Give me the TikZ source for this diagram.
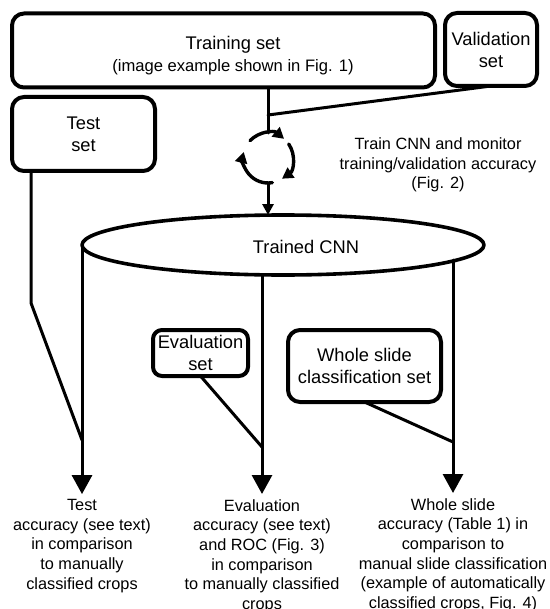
\documentclass[tikz,border=0pt]{standalone}
\usepackage{fontspec}
\setmainfont{Liberation Sans}
\usetikzlibrary{arrows.meta,shapes.geometric}

\begin{document}
\begin{tikzpicture}[line cap=round,line join=round,x=0.5pt,y=-0.5pt,
    boxtext/.style={align=center,inner sep=0pt,font=\fontsize{9.15}{11}\selectfont},
    setbox/.style={boxtext,draw,line width=2pt,rounded corners=6pt,outer sep=0pt},
    note/.style={align=center,inner sep=0pt,font=\fontsize{8.15}{9.8}\selectfont},
    flow/.style={line width=1.5pt},
    outarrow/.style={flow,-{Triangle[width=10pt,length=9.5pt]},shorten >=2.5pt},
    cycarrow/.style={flow,line width=1.7pt,y=0.5pt,-{Triangle[width=6pt,length=5.5pt]}}]
    \useasboundingbox (0,0) rectangle (550,609);
    % sets
    \node[setbox,minimum width=211.5pt,minimum height=37pt] (train) at (223.5,50.5) {};
    \node[boxtext] (traintext) at (233,55.5) {Training set\\{\fontsize{8.3}{10}\selectfont(image example shown in Fig. 1)}};
    \node[setbox,minimum width=46pt,minimum height=36.5pt] (valid) at (491,49.5) {Validation\\set};
    \node[setbox,minimum width=71.5pt,minimum height=37pt] (tst) at (83.5,134) {Test\\set};
    \node[setbox,rounded corners=4.5pt,minimum width=47.5pt,minimum height=23pt] (evals) at (200.5,353) {Evaluation\\set};
    \node[setbox,minimum width=76.5pt,minimum height=36pt] (whole) at (364.5,366) {Whole slide\\classification set};
    % network
    \node[ellipse,draw,line width=1.8pt,minimum width=201pt,minimum height=30pt,inner sep=0pt,outer sep=0pt] (cnn) at (283,245) {};
    \node[boxtext] (cnntext) at (306,247) {Trained CNN};
    \node[circle,minimum size=25pt,inner sep=0pt,outer sep=0pt] (cyc) at (268,158) {};
    \node[note] (trainnote) at (438,165) {Train CNN and monitor\\training/validation accuracy\\(Fig. 2)};
    % results
    \node[note] (outT) at (82,546) {Test\\accuracy (see text)\\in comparison\\to manually\\classified crops};
    \node[note] (outE) at (262,556) {Evaluation\\accuracy (see text)\\and ROC (Fig. 3)\\in comparison\\to manually classified\\crops};
    \node[note] (outW) at (453,555) {Whole slide\\accuracy (Table 1) in\\comparison to\\manual slide classification\\(example of automatically\\classified crops, Fig. 4)};
    \coordinate (join) at (268,115);
    \coordinate (tbend) at (31,303);
    \coordinate (tjoin) at (82,440);
    \coordinate (ejoin) at (262,447);
    \coordinate (wjoin) at (453,442);
    \draw[flow] (train.south -| join) -- (join) -- (cyc.north);
    \draw[flow] (valid.south) -- (join);
    \draw[cycarrow] (cyc.136) arc[start angle=136,end angle=50,radius=25];
    \draw[cycarrow] (cyc.34) arc[start angle=34,end angle=-56,radius=25];
    \draw[cycarrow] (cyc.-80) arc[start angle=-80,end angle=-194,radius=25];
    \draw[flow,-{Triangle[width=5.5pt,length=5.5pt]}] (cyc.south) -- (cyc.south |- cnn.north);
    \draw[outarrow] (cnn.west) -- (cnn.west |- outT.north);
    \draw[outarrow] (outE.north |- cnn.south) -- (outE.north);
    \draw[outarrow] (outW.north |- cnn.-5.4) -- (outW.north);
    \draw[flow] (tst.south -| tbend) -- (tbend) -- (tjoin);
    \draw[flow] (evals.south) -- (ejoin);
    \draw[flow] (whole.south) -- (wjoin);
\end{tikzpicture}
\end{document}
